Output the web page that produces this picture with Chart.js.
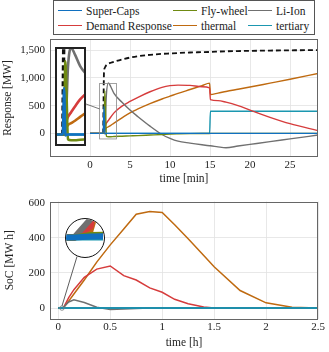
<!DOCTYPE html>
<html>
<head>
<meta charset="utf-8">
<script src="https://cdn.jsdelivr.net/npm/chart.js@4"></script>
<style>
  html, body { margin: 0; padding: 0; background: #fff; }
  #page { position: relative; width: 329px; height: 352px; overflow: hidden; font-family: "Liberation Serif", serif; color: #222; }
  #page canvas { position: absolute; left: 0; top: 0; }
  #legend { position: absolute; left: 53px; top: 0; width: 262px; height: 35px; box-sizing: border-box; border: 1px solid #555;
            display: grid; grid-template-columns: 115px 75px auto; grid-auto-rows: 15px; padding: 2px 0 0 4px; font-size: 11.5px; background: #fff; }
  .item { display: flex; align-items: center; white-space: nowrap; }
  .swatch { width: 24px; height: 0; border-top: 1.5px solid; margin-right: 4px; }
  #zoomBox { position: absolute; left: 55px; top: 47px; width: 31px; height: 99px; box-sizing: border-box; border: 2px solid #222; background: #fff; }
  #lens { position: absolute; left: 65px; top: 218px; width: 40px; height: 40px; box-sizing: border-box; border: 1.5px solid #111; border-radius: 50%; overflow: hidden; background: #fff; }
</style>
</head>
<body>
<div id="page">
  <canvas id="resp" width="329" height="352"></canvas>
  <canvas id="soc" width="329" height="352"></canvas>
  <div id="legend"></div>
  <div id="zoomBox"><canvas id="respZoom" width="27" height="95"></canvas></div>
  <div id="lens"><canvas id="socZoom" width="37" height="37"></canvas></div>
</div>
<script>
// series
const seriesNames = ["Super-Caps", "Fly-wheel", "Li-Ion", "Demand Response", "thermal", "tertiary"];
const seriesColors = ["#1070c0", "#6f8a12", "#707070", "#d63c3c", "#bf6a10", "#1b97b0"];

// response [MW] over time [min]
const tMin = [0, 1.65, 1.75, 1.85, 1.95, 2.05, 2.3, 2.6, 3, 4, 5, 6, 7.5, 9, 10, 11, 12.5, 14, 14.95, 15.05, 16, 17, 18.5, 20, 22.5, 25, 28.5];
const respSuperCaps = [0, 0, 490, -10, -5, 0, 0, 0, 0, 0, 0, 0, 0, 0, 0, 0, 0, 0, 0, 0, 0, 0, 0, 0, 0, 0, 0];
const respFlyWheel = [0, 0, 0, 770, 380, -50, -60, -60, -55, -50, -45, -40, -30, -20, -12, -8, -4, -2, -1, 0, 0, 0, 0, 0, 0, 0, 0];
const respLiIon = [0, 0, 0, 0, 350, 700, 910, 840, 720, 560, 420, 300, 130, -20, -90, -140, -175, -205, -222, -223, -243, -258, -228, -198, -148, -99, -30];
const respDemand = [0, 0, 0, 100, 150, 185, 235, 295, 370, 490, 575, 650, 750, 830, 860, 870, 865, 840, 820, 610, 590, 562, 500, 420, 290, 175, 50];
const respThermal = [0, 0, 0, 50, 80, 100, 120, 145, 185, 280, 370, 440, 535, 620, 670, 720, 790, 860, 905, 700, 725, 755, 795, 835, 905, 975, 1080];
const respTertiary = [0, 0, 0, 0, 0, 0, 0, 0, 0, 0, 0, 0, 0, 0, 0, 0, 0, 0, 0, 400, 400, 400, 400, 400, 400, 400, 400];
const respTotal = [null, 0, 1100, 1180, 1210, 1230, 1255, 1272, 1290, 1330, 1365, 1390, 1415, 1432, 1440, 1448, 1457, 1463, 1467, 1468, 1473, 1478, 1483, 1487, 1492, 1496, 1500];
const minTicks = [0, 5, 10, 15, 20, 25];
const mwTicks = [0, 500, 1000, 1500];

// state of charge [MW h] over time [h]
const tHour = [0, 0.03, 0.05, 0.1, 0.15, 0.25, 0.37, 0.5, 0.63, 0.75, 0.88, 1.0, 1.12, 1.25, 1.4, 1.5, 1.75, 2.0, 2.25, 2.5];
const socSuperCaps = [0, 0, 0.3, 0.5, 0.5, 0.4, 0.3, 0.2, 0.1, 0, 0, 0, 0, 0, 0, 0, 0, 0, 0, 0];
const socFlyWheel = [0, 0, 0.7, 0.8, 0.7, 0.5, 0.3, 0.2, 0.1, 0, 0, 0, 0, 0, 0, 0, 0, 0, 0, 0];
const socLiIon = [0, 0, 5, 35, 47, 32, 5, -8, -5, -2, 0, 0, 0, 0, 0, 0, 0, 0, 0, 0];
const socDemand = [0, 0, 3, 60, 105, 175, 222, 240, 185, 160, 115, 90, 50, 25, 6, 0, 0, 0, 0, 0];
const socThermal = [0, 0, 2, 40, 80, 160, 262, 360, 450, 535, 550, 545, 475, 395, 300, 235, 100, 30, 5, 0];
const socTertiary = [0, 0, 0, 0, 0, 0, 0, 0, 0, 0, 0, 0, 0, 0, 0, 0, 0, 0, 0, 0];
const hourTicks = [0, 0.5, 1, 1.5, 2, 2.5];
const socTicks = [0, 200, 400, 600];

// zoomed windows
const respZoomX = [1.2, 3.3], respZoomY = [-100, 900];
const socZoomX = [0.02, 0.065], socZoomY = [-5, 5];

const pts = (xs, ys) => xs.map((x, i) => ({ x: x, y: ys[i] }));
const tickFont = { family: "Liberation Serif", size: 11 };
const titleFont = { family: "Liberation Serif", size: 11.5 };

// legend
const leg = document.getElementById("legend");
[0, 1, 2, 3, 4, 5].forEach(i => {
  const d = document.createElement("div");
  d.className = "item";
  d.innerHTML = '<span class="swatch" style="border-color:' + seriesColors[i] + '"></span>' + seriesNames[i];
  leg.appendChild(d);
});

const frame = {
  id: "frame",
  afterDatasetsDraw(chart) {
    const a = chart.chartArea, ctx = chart.ctx;
    ctx.save();
    ctx.strokeStyle = "#666";
    ctx.lineWidth = 1;
    ctx.strokeRect(Math.round(a.left) + 0.5, Math.round(a.top) + 0.5, Math.round(a.right - a.left) - 1, Math.round(a.bottom - a.top) - 1);
    ctx.restore();
  }
};

function axis(min, max, ticks, title, pad, size, horiz) {
  return {
    type: "linear", min: min, max: max,
    afterBuildTicks: s => { s.ticks = ticks.map(v => ({ value: v })); },
    afterFit: s => { if (horiz) s.height = size; else s.width = size; },
    grid: { color: "#e2e2e2", lineWidth: 0.8, drawTicks: false },
    border: { display: false },
    ticks: { color: "#222", font: tickFont, padding: horiz ? 2 : 5, maxRotation: 0,
             callback: v => v.toLocaleString("en-US") },
    title: { display: true, text: title, color: "#222", font: titleFont, padding: pad }
  };
}

function baseOptions(padding, scales) {
  return {
    responsive: false, animation: false, events: [],
    layout: { padding: padding },
    plugins: { legend: { display: false }, tooltip: { enabled: false } },
    scales: scales
  };
}

function insetOptions(xr, yr) {
  return baseOptions(0, {
    x: { type: "linear", display: false, min: xr[0], max: xr[1] },
    y: { type: "linear", display: false, min: yr[0], max: yr[1] }
  });
}

const respSeries = [respSuperCaps, respFlyWheel, respLiIon, respDemand, respThermal, respTertiary];
function respSets(w) {
  return respSeries.map((ys, i) => ({
    label: seriesNames[i], data: pts(tMin, ys), borderColor: seriesColors[i], borderWidth: w,
    pointRadius: 0, cubicInterpolationMode: "monotone"
  })).concat([{
    label: "total", data: pts(tMin, respTotal), borderColor: "#111", borderWidth: w * 1.3,
    borderDash: [5, 3], pointRadius: 0, cubicInterpolationMode: "monotone"
  }]);
}

const socSeries = [socSuperCaps, socFlyWheel, socLiIon, socDemand, socThermal, socTertiary];
function socSets(w, tertiaryOnTop) {
  return socSeries.map((ys, i) => ({
    label: seriesNames[i], data: pts(tHour, ys), borderColor: seriesColors[i], borderWidth: w,
    pointRadius: 0, tension: 0, order: (tertiaryOnTop && i === 5) ? 0 : 1
  }));
}

const respMarks = {
  id: "respMarks",
  afterDatasetsDraw(chart) {
    const x = chart.scales.x, y = chart.scales.y, ctx = chart.ctx;
    const l = x.getPixelForValue(respZoomX[0]), r = x.getPixelForValue(respZoomX[1]);
    const t = y.getPixelForValue(respZoomY[1]), b = y.getPixelForValue(respZoomY[0]);
    ctx.save();
    ctx.strokeStyle = "#8a8a8a";
    ctx.lineWidth = 0.8;
    ctx.strokeRect(l, t, r - l, b - t);
    ctx.strokeStyle = "#555";
    ctx.beginPath();
    ctx.moveTo(86, 104);
    ctx.lineTo(l, y.getPixelForValue(440));
    ctx.stroke();
    ctx.restore();
  }
};

const socMarks = {
  id: "socMarks",
  afterDatasetsDraw(chart) {
    const x = chart.scales.x, y = chart.scales.y, ctx = chart.ctx;
    const px = x.getPixelForValue(0.035), py = y.getPixelForValue(0);
    ctx.save();
    ctx.strokeStyle = "#333";
    ctx.lineWidth = 0.8;
    ctx.beginPath();
    ctx.moveTo(77, 256.5);
    ctx.lineTo(px, py - 2);
    ctx.stroke();
    ctx.strokeStyle = "#777";
    ctx.beginPath();
    ctx.arc(px, py, 2.2, 0, Math.PI * 2);
    ctx.stroke();
    ctx.restore();
  }
};

new Chart(document.getElementById("resp"), {
  type: "line",
  data: { datasets: respSets(1.4) },
  options: baseOptions({ top: 39, right: 11, bottom: 166, left: 0 }, {
    x: axis(-5, 28.5, minTicks, "time [min]", { top: 0, bottom: 0 }, 29, true),
    y: axis(-425, 1700, mwTicks, "Response [MW]", { top: 1, bottom: 0 }, 50, false)
  }),
  plugins: [frame, respMarks]
});

new Chart(document.getElementById("soc"), {
  type: "line",
  data: { datasets: socSets(1.5, true) },
  options: baseOptions({ top: 201.5, right: 11, bottom: 0, left: 0 }, {
    x: axis(-0.08, 2.5, hourTicks, "time [h]", { top: 0, bottom: 2 }, 33, true),
    y: axis(-62, 607, socTicks, "SoC [MW h]", { top: 3, bottom: 0 }, 50, false)
  }),
  plugins: [frame, socMarks]
});

new Chart(document.getElementById("respZoom"), {
  type: "line",
  data: { datasets: respSets(2.6) },
  options: insetOptions(respZoomX, respZoomY)
});

new Chart(document.getElementById("socZoom"), {
  type: "line",
  data: { datasets: socSets(6, false) },
  options: insetOptions(socZoomX, socZoomY)
});
</script>
</body>
</html>
